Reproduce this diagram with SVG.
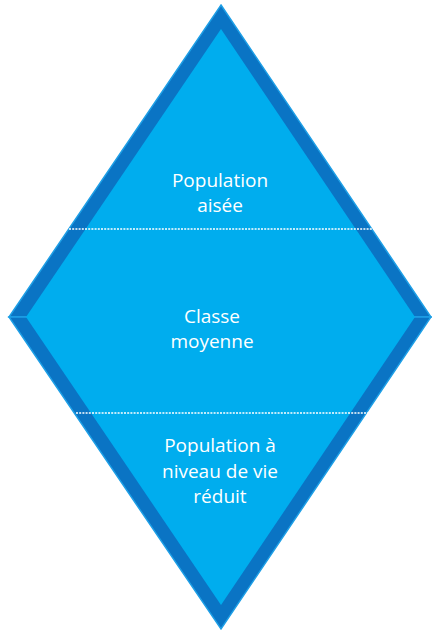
<svg xmlns="http://www.w3.org/2000/svg" width="432" height="631" viewBox="0 0 432 631">
  <style>
    .band { fill: #0a74c4; stroke: #1e9fe6; stroke-width: 1.5; stroke-linejoin: miter; }
    .core { fill: #00adee; }
    .divider { stroke: #ffffff; stroke-width: 1.6; stroke-dasharray: 2 1.2; fill: none; }
    .label { fill: #ffffff; font-family: "Open Sans", "Noto Sans", "Liberation Sans", sans-serif; font-size: 19px; text-anchor: middle; }
  </style>
  <rect width="432" height="631" fill="#ffffff"/>

  <!-- Diamond: dark border band built from upper and lower triangles -->
  <g id="diamond">
    <polygon class="band" points="221,5 431,317 9,317"/>
    <polygon class="band" points="9,317 431,317 221,629"/>
    <polygon class="core" points="221,29 415,317 221,605 26,317"/>
  </g>

  <!-- Dotted tier separators -->
  <g id="connectors">
    <line class="divider" x1="69" y1="229" x2="374" y2="229"/>
    <line class="divider" x1="76" y1="413" x2="369" y2="413"/>
  </g>

  <g id="tier-top">
    <text class="label" x="220" y="187">Population</text>
    <text class="label" x="220" y="212">aisée</text>
  </g>

  <g id="tier-middle">
    <text class="label" x="212" y="323">Classe</text>
    <text class="label" x="212" y="348">moyenne</text>
  </g>

  <g id="tier-bottom">
    <text class="label" x="220" y="452">Population à</text>
    <text class="label" x="220" y="478">niveau de vie</text>
    <text class="label" x="220" y="503">réduit</text>
  </g>
</svg>
